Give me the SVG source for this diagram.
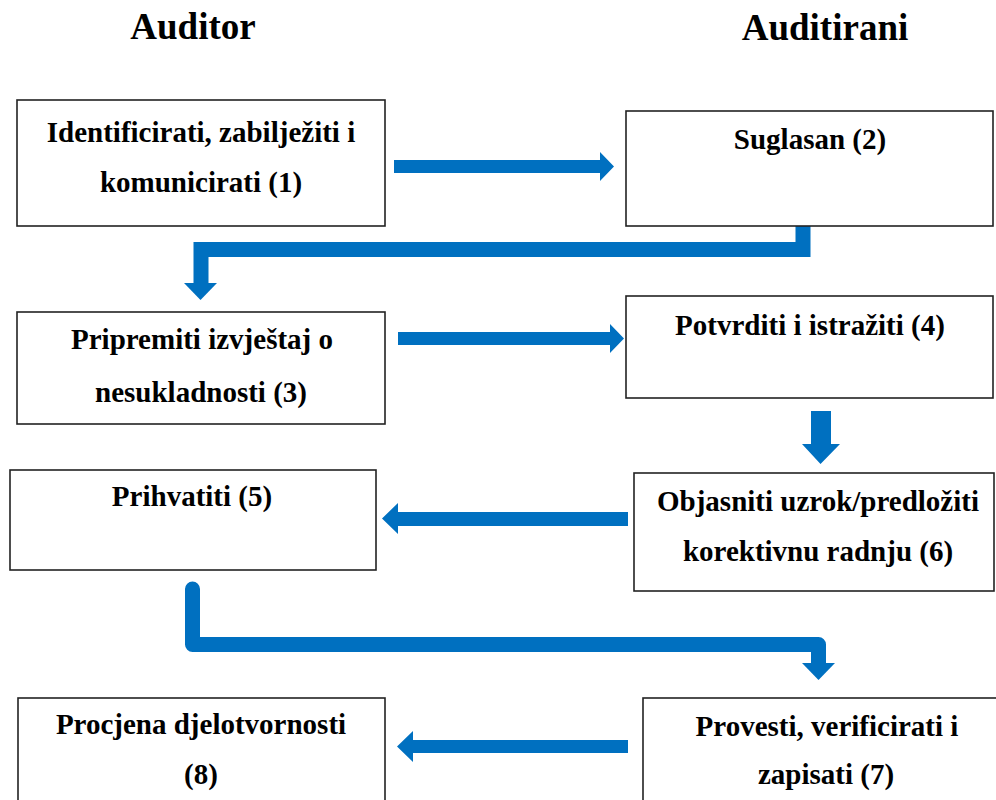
<svg xmlns="http://www.w3.org/2000/svg" width="996" height="800" viewBox="0 0 996 800">
<style>
.box{fill:#fff;stroke:#222;stroke-width:1.6}
.t{font-family:"Liberation Serif","Times New Roman",serif;font-weight:bold;font-size:29px;fill:#000;text-anchor:middle}
.title{font-family:"Liberation Serif","Times New Roman",serif;font-weight:bold;font-size:37px;fill:#000;text-anchor:middle}
.af{fill:#0070C0}
.as{fill:none;stroke:#0070C0;stroke-width:15}
</style>
<rect width="996" height="800" fill="#fff"/>
<text class="title" x="193" y="39">Auditor</text>
<text class="title" x="825" y="40">Auditirani</text>

<g id="connectors">
  <path class="af" d="M394,160 H600 V152 L614,166.5 L600,181 V173 H394 Z"/>
  <polyline class="as" points="803,222 803,249.5 201,249.5 201,284"/>
  <polygon class="af" points="184,283 217,283 200.5,300"/>
  <path class="af" d="M398,332 H610 V324 L624,338.5 L610,353 V345 H398 Z"/>
  <path class="af" d="M811,411 H831 V444 H840 L820.5,464 L802,444 H811 Z"/>
  <path class="af" d="M628,512 H398 V503 L382,518.5 L398,534 V526 H628 Z"/>
  <polyline class="as" points="192.5,589 192.5,644.5 818.5,644.5 818.5,664" stroke-linejoin="round" stroke-linecap="round"/>
  <polygon class="af" points="802,663 835,663 818.5,680"/>
  <path class="af" d="M628,740 H413 V731 L397,746.5 L413,762 V753 H628 Z"/>
</g>

<g id="n1">
  <rect class="box" x="17" y="100" width="368" height="126"/>
  <text class="t" x="201" y="142">Identificirati, zabilježiti i</text>
  <text class="t" x="201" y="192">komunicirati (1)</text>
</g>
<g id="n2">
  <rect class="box" x="626" y="111" width="367" height="115"/>
  <text class="t" x="810" y="149">Suglasan (2)</text>
</g>
<g id="n3">
  <rect class="box" x="17" y="312" width="368" height="112"/>
  <text class="t" x="202" y="349">Pripremiti izvještaj o</text>
  <text class="t" x="201" y="402">nesukladnosti (3)</text>
</g>
<g id="n4">
  <rect class="box" x="626" y="296" width="367" height="102"/>
  <text class="t" x="810" y="335">Potvrditi i istražiti (4)</text>
</g>
<g id="n5">
  <rect class="box" x="10" y="470" width="366" height="100"/>
  <text class="t" x="192" y="506">Prihvatiti (5)</text>
</g>
<g id="n6">
  <rect class="box" x="634" y="473" width="360" height="118"/>
  <text class="t" x="818" y="511">Objasniti uzrok/predložiti</text>
  <text class="t" x="818" y="561">korektivnu radnju (6)</text>
</g>
<g id="n8">
  <rect class="box" x="18" y="698" width="367" height="110"/>
  <text class="t" x="201" y="734">Procjena djelotvornosti</text>
  <text class="t" x="201" y="784">(8)</text>
</g>
<g id="n7">
  <rect class="box" x="643" y="698" width="360" height="110"/>
  <text class="t" x="827" y="736">Provesti, verificirati i</text>
  <text class="t" x="826" y="784">zapisati (7)</text>
</g>
</svg>
